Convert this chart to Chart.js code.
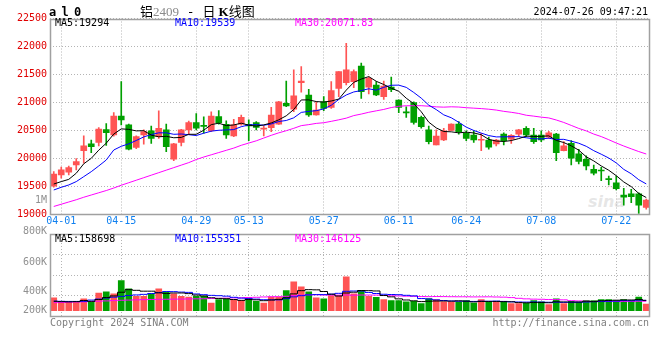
<!DOCTYPE html>
<html><head><meta charset="utf-8">
<script src="https://cdn.jsdelivr.net/npm/chart.js@4"></script>
<style>
html,body{margin:0;padding:0;background:#fff;}
body{width:660px;height:360px;overflow:hidden;position:relative;font-family:'DejaVu Sans Mono',monospace;}
.t{position:absolute;white-space:nowrap;font-size:10px;line-height:12px;font-family:'DejaVu Sans Mono',monospace;}
.g{color:#909090;}
canvas{position:absolute;left:0;}
</style></head><body>
<div class="t" style="left:588px;top:192px;font-size:16px;line-height:20px;font-style:italic;font-family:'DejaVu Sans';color:rgba(200,200,200,0.45);font-weight:bold;">sina</div>
<div class="t" style="left:606px;top:182px;font-size:13px;line-height:14px;color:rgba(240,150,150,0.35);">◠</div>
<canvas id="pc" width="660" height="232" style="top:0;width:660px;height:232px;"></canvas>
<canvas id="vc" width="660" height="92" style="top:228px;width:660px;height:92px;"></canvas>

<div class="t" style="left:49px;top:5px;font-size:12px;line-height:14px;font-weight:bold;letter-spacing:-1px;">a l 0</div>
<div class="t" style="left:140px;top:3px;font-size:13px;line-height:15px;"><span style="font-family:'Noto Sans CJK SC'">铝</span><span style="color:#8a8a8a;font-family:'Liberation Serif',serif;">2409</span> - <span style="font-family:'Noto Sans CJK SC'">日</span><b style="font-family:'Liberation Serif',serif;margin-left:3px;">K</b><span style="font-family:'Noto Sans CJK SC'">线图</span></div>
<div class="t" style="right:12px;top:6px;">2024-07-26 09:47:21</div>

<div class="t" style="left:55px;top:17px;color:#000;">MA5:19294</div>
<div class="t" style="left:175px;top:17px;color:#0000ff;">MA10:19539</div>
<div class="t" style="left:295px;top:17px;color:#ff00ff;">MA30:20071.83</div>

<div class="t g" style="right:613px;top:194px;">1M</div>
<div class="t g" style="right:613px;top:225px;">800K</div>
<div class="t g" style="right:613px;top:256px;">600K</div>
<div class="t g" style="right:613px;top:285px;">400K</div>
<div class="t g" style="right:613px;top:304px;">200K</div>

<div class="t" style="left:55px;top:233px;color:#000;">MA5:158698</div>
<div class="t" style="left:175px;top:233px;color:#0000ff;">MA10:155351</div>
<div class="t" style="left:295px;top:233px;color:#ff00ff;">MA30:146125</div>

<div class="t" style="left:50px;top:317px;color:#808080;">Copyright 2024 SINA.COM</div>
<div class="t" style="right:11px;top:317px;color:#808080;">http://finance.sina.com.cn</div>

<script>
const dates=['03-29','04-01','04-02','04-03','04-08','04-09','04-10','04-11','04-12','04-15','04-16','04-17','04-18','04-19','04-22','04-23','04-24','04-25','04-26','04-29','04-30','05-06','05-07','05-08','05-09','05-10','05-13','05-14','05-15','05-16','05-17','05-20','05-21','05-22','05-23','05-24','05-27','05-28','05-29','05-30','05-31','06-03','06-04','06-05','06-06','06-07','06-11','06-12','06-13','06-14','06-17','06-18','06-19','06-20','06-21','06-24','06-25','06-26','06-27','06-28','07-01','07-02','07-03','07-04','07-05','07-08','07-09','07-10','07-11','07-12','07-15','07-16','07-17','07-18','07-19','07-22','07-23','07-24','07-25','07-26'];
const shownDates=['04-01','04-15','04-29','05-13','05-27','06-11','06-24','07-08','07-22'];
const priceTicks=[19000,19500,20000,20500,21000,21500,22000,22500];
const volTicks=[0,200,400,600,800];

const opens=[19500,19700,19750,19880,20135,20255,20280,20510,20415,20755,20595,20190,20415,20490,20385,20505,19980,20280,20505,20635,20580,20490,20745,20605,20400,20610,20605,20635,20520,20545,20610,20980,20875,21350,21130,20775,21010,20910,21250,21350,21370,21650,21270,21310,21100,21270,21040,20820,20995,20730,20505,20235,20325,20495,20610,20445,20415,20320,20325,20255,20430,20340,20430,20535,20415,20415,20375,20430,20135,20265,20075,19980,19800,19780,19625,19560,19340,19360,19360,19120];
const closes=[19715,19790,19830,19940,20220,20205,20520,20455,20755,20685,20160,20385,20475,20355,20535,20205,20255,20505,20635,20535,20570,20755,20635,20415,20595,20730,20575,20550,20525,20770,21010,20935,21115,21380,20775,20860,20890,21210,21550,21580,21550,21190,21430,21130,21290,21225,20910,20810,20640,20565,20295,20395,20490,20610,20475,20355,20325,20330,20195,20325,20315,20410,20505,20415,20295,20325,20455,20100,20220,20000,19940,19860,19730,19770,19615,19455,19300,19310,19160,19250];
const highs=[19760,19840,19860,19990,20400,20325,20545,20620,20815,21370,20610,20400,20505,20575,20845,20610,20265,20515,20665,20800,20740,20830,20850,20670,20695,20770,20685,20655,20575,20910,21015,21380,21580,21640,21230,21010,21100,21370,21550,22055,21580,21700,21450,21370,21380,21450,21045,20920,21010,20755,20575,20505,20535,20615,20655,20490,20490,20445,20375,20335,20455,20420,20515,20565,20535,20490,20480,20445,20295,20315,20160,20040,19877,19835,19680,19680,19460,19440,19380,19265];
const lows=[19480,19640,19700,19790,19910,20100,20220,20230,20395,20595,20145,20170,20250,20265,20355,20115,19955,20220,20430,20505,20445,20475,20610,20355,20385,20590,20315,20505,20400,20475,20605,20920,20830,21180,20745,20770,20850,20890,21100,21310,21260,21070,21150,21120,21050,21190,20815,20730,20610,20535,20255,20235,20315,20490,20430,20315,20280,20135,20160,20220,20235,20265,20385,20385,20265,20295,20355,19955,20130,19880,19895,19790,19700,19595,19520,19430,19160,19205,19010,19085];
const ma5=[19537,19580,19620,19730,19899,19997,20143,20268,20431,20524,20515,20488,20492,20412,20382,20391,20365,20371,20427,20427,20500,20600,20626,20582,20594,20626,20590,20573,20595,20630,20686,20758,20871,21042,21043,21013,21004,21023,21057,21218,21356,21416,21460,21376,21318,21253,21197,21073,20975,20830,20644,20541,20477,20471,20453,20465,20451,20419,20336,20306,20298,20315,20350,20394,20388,20390,20399,20318,20279,20220,20143,20024,19950,19860,19783,19686,19574,19490,19368,19295];
const ma10=[19430,19478,19520,19580,19669,19758,19860,19967,20146,20212,20256,20316,20380,20422,20453,20453,20427,20432,20420,20405,20446,20483,20499,20505,20511,20563,20595,20600,20589,20612,20656,20674,20722,20819,20837,20850,20881,20947,21050,21131,21185,21210,21242,21217,21268,21305,21307,21267,21176,21074,20949,20869,20775,20723,20642,20555,20496,20448,20404,20380,20382,20383,20385,20365,20347,20344,20357,20334,20337,20304,20267,20212,20134,20070,20002,19915,19799,19720,19614,19539];
const ma30=[19135,19175,19215,19255,19300,19340,19380,19420,19465,19515,19560,19605,19650,19695,19740,19785,19830,19875,19920,19975,20020,20060,20100,20140,20180,20230,20270,20310,20360,20409,20453,20491,20534,20582,20600,20622,20634,20659,20686,20716,20762,20789,20821,20847,20872,20906,20928,20938,20938,20939,20930,20918,20913,20919,20915,20903,20895,20887,20876,20861,20838,20821,20800,20768,20752,20734,20720,20683,20639,20586,20532,20488,20431,20386,20330,20271,20217,20167,20118,20074];

const vols=[181,142,142,142,171,142,229,239,220,349,268,197,197,220,268,239,220,197,190,197,197,132,165,174,158,158,174,148,132,190,190,252,336,288,239,181,171,203,203,385,220,252,197,187,165,155,155,142,148,126,174,165,142,142,142,155,132,165,142,142,142,126,126,132,155,142,116,171,126,148,142,155,155,165,165,155,165,155,190,122];
const vma5=[148,145,143,145,155.6,147.8,165.2,184.6,200.2,235.8,261,254.6,246.2,246.2,230,224.2,228.8,228.8,222.8,208.6,200.2,182.6,176.2,173,165.2,157.4,165.8,162.4,154,160.4,166.8,182.4,220,251.2,261,259.2,243,216.4,199.4,228.6,236.4,252.6,251.4,248.2,204.2,191.2,171.8,160.8,153,145.2,149,151,151,149.8,153,149.2,142.6,147.2,147.2,147.2,144.6,143.4,135.6,133.6,136.2,136.2,134.2,143.2,142,140.6,140.6,148.4,145.2,153,156.4,159,161,161,166,157.4];
const vma10=[150,148,147,147,148,160,170,180,188,195.7,204.4,209.9,215.4,223.2,232.9,242.6,241.7,237.5,234.5,219.3,212.2,205.7,202.5,197.9,186.9,178.8,174.2,169.3,163.5,162.8,162.1,174.1,191.2,202.6,210.7,213,212.7,218.2,225.3,244.8,247.8,247.8,233.9,223.8,216.4,213.8,212.2,206.1,200.6,174.7,170.1,161.4,155.9,151.4,149.1,149.1,146.8,149.1,148.5,150.1,146.9,143,141.4,140.4,141.7,140.4,138.8,139.4,137.8,138.4,138.4,141.3,144.2,147.5,148.5,149.8,154.7,153.1,159.5,156.9];
const vma30=[135,137,139,141,143,146,149,152,155,158,160,162,164,166,167,168,169,170,171,172,173,175,177,179,181,183,185,187,190,192.6,192.9,196.6,203,207.9,210.2,211.5,209.5,208.3,207.8,209,207.4,209.2,209.2,208.1,204.7,201.9,199.7,197.9,196.5,194.1,193.3,194.4,193.7,192.6,192.1,192,190.6,191.1,191.5,189.9,188.3,184.1,177.1,171.9,169.1,167.8,165.9,164.9,162.3,154.4,151.8,148.6,147.2,146.4,146.4,146.4,146.8,147.2,148.6,148.5];

const RED='#ff5454', GREEN='#00a000';
const colors=closes.map((c,i)=>c>=opens[i]?RED:GREEN);
const GRID='#b4b4b4';
const MONO="'DejaVu Sans Mono', monospace";

const boxPlugin={id:'box',afterDraw(c){const {ctx,chartArea:a}=c;ctx.save();ctx.strokeStyle='#a0a0a0';ctx.lineWidth=1.5;ctx.strokeRect(Math.round(a.left)+0.5,Math.round(a.top)+0.5,Math.round(a.right-a.left)-1,Math.round(a.bottom-a.top)-1);ctx.restore();}};

function xScale(showLabels){
  return {
    offset:true,
    grid:{offset:false,drawTicks:false,color:(ctx)=>shownDates.includes(dates[ctx.index])?GRID:'rgba(0,0,0,0)',lineWidth:1},
    border:{display:false,dash:[1,2]},
    ticks:{display:showLabels,autoSkip:false,maxRotation:0,minRotation:0,padding:1,color:'#1080f0',font:{family:MONO,size:10},
      callback:(v,i)=>shownDates.includes(dates[i])?dates[i]:''},
    afterFit:(s)=>{s.height=showLabels?18:0;}
  };
}
const lineDs=(d,c)=>({type:'line',data:d,borderColor:c,borderWidth:1,pointRadius:0,tension:0,order:0});

new Chart(document.getElementById('pc'),{
  type:'bar',
  data:{labels:dates,datasets:[
    lineDs(ma5,'#000000'),lineDs(ma10,'#0000ff'),lineDs(ma30,'#ff00ff'),
    {data:dates.map((d,i)=>[opens[i],closes[i]]),backgroundColor:colors,barThickness:6,minBarLength:1,grouped:false,order:1},
    {data:dates.map((d,i)=>[lows[i],highs[i]]),backgroundColor:colors,barThickness:1,grouped:false,order:2}
  ]},
  options:{responsive:false,animation:false,devicePixelRatio:1,events:[],
    plugins:{legend:{display:false},tooltip:{enabled:false}},
    layout:{padding:{top:18.5,right:10,left:0,bottom:0}},
    scales:{
      x:xScale(true),
      y:{min:19000,max:22500,
        afterBuildTicks:(s)=>{s.ticks=priceTicks.map(v=>({value:v}));},
        afterFit:(s)=>{s.width=50;},
        grid:{drawTicks:false,color:GRID},border:{display:false,dash:[1,2]},
        ticks:{padding:3,color:'#e00000',font:{family:MONO,size:10},callback:(v)=>String(v)}}
    }},
  plugins:[boxPlugin]
});

new Chart(document.getElementById('vc'),{
  type:'bar',
  data:{labels:dates,datasets:[
    {type:'line',data:vma5,borderColor:'#000000',borderWidth:1,pointRadius:0,stepped:'middle',order:0},
    {type:'line',data:vma10,borderColor:'#0000ff',borderWidth:1,pointRadius:0,stepped:'middle',order:0},
    {type:'line',data:vma30,borderColor:'#ff00ff',borderWidth:1,pointRadius:0,stepped:'middle',order:0},
    {data:vols,backgroundColor:colors,barThickness:6,base:57,order:1}
  ]},
  options:{responsive:false,animation:false,devicePixelRatio:1,events:[],
    plugins:{legend:{display:false},tooltip:{enabled:false}},
    layout:{padding:{top:6,right:10,left:0,bottom:3.4}},
    scales:{
      x:xScale(false),
      y:{min:0,max:800,
        afterBuildTicks:(s)=>{s.ticks=volTicks.map(v=>({value:v}));},
        afterFit:(s)=>{s.width=50;},
        grid:{drawTicks:false,color:GRID},border:{display:false,dash:[1,2]},
        ticks:{display:false}}
    }},
  plugins:[boxPlugin]
});
</script>
</body></html>
